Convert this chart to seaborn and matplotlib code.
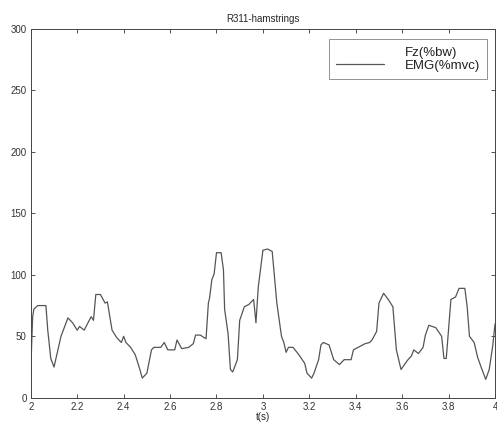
import numpy as np
import pandas as pd
import matplotlib
matplotlib.use("Agg")
import matplotlib.pyplot as plt
import seaborn as sns

# EMG trace
t = [2.0, 2.003, 2.008, 2.013, 2.03, 2.065, 2.073, 2.086, 2.10, 2.13, 2.16, 2.18,
     2.20, 2.21, 2.23, 2.26, 2.27, 2.28, 2.30, 2.32, 2.33, 2.35, 2.37, 2.39,
     2.40, 2.41, 2.43, 2.45, 2.47, 2.48, 2.50, 2.52, 2.53, 2.56, 2.575, 2.59,
     2.62, 2.63, 2.65, 2.68, 2.70, 2.71, 2.73, 2.755, 2.765, 2.77, 2.78, 2.79,
     2.80, 2.82, 2.83, 2.835, 2.85, 2.86, 2.87, 2.89, 2.90, 2.92, 2.94, 2.96,
     2.97, 2.98, 3.0, 3.02, 3.04, 3.05, 3.06, 3.08, 3.09, 3.10, 3.11, 3.13,
     3.155, 3.18, 3.19, 3.21, 3.22, 3.24, 3.25, 3.26, 3.285, 3.305, 3.33, 3.35,
     3.38, 3.39, 3.41, 3.42, 3.44, 3.46, 3.47, 3.49, 3.50, 3.52, 3.54, 3.56,
     3.575, 3.595, 3.61, 3.625, 3.64, 3.65, 3.67, 3.69, 3.70, 3.715, 3.745, 3.77,
     3.78, 3.79, 3.81, 3.83, 3.845, 3.87, 3.88, 3.89, 3.91, 3.925, 3.94, 3.96,
     3.975, 3.99, 4.0]
emg = [16, 40, 66, 72, 75, 75, 55, 32, 25, 50, 65, 61,
       55, 58, 55, 66, 63, 84, 84, 77, 78, 55, 49, 45,
       50, 45, 41, 35, 23, 16, 20, 39, 41, 41, 45, 39,
       39, 47, 40, 41, 44, 51, 51, 48, 77, 81, 96, 101,
       118, 118, 104, 72, 52, 23, 21, 31, 63, 74, 76, 80,
       61, 90, 120, 121, 119, 98, 77, 50, 45, 37, 41, 41,
       35, 28, 20, 16, 20, 31, 43, 45, 43, 31, 27, 31,
       31, 39, 41, 42, 44, 45, 47, 54, 77, 85, 80, 74,
       39, 23, 27, 31, 34, 39, 36, 41, 51, 59, 57, 50,
       32, 32, 80, 82, 89, 89, 74, 50, 45, 33, 25, 15,
       23, 42, 60]

df = pd.DataFrame({"t": t, "EMG(%mvc)": emg})

sns.set_style("ticks")
plt.rcParams["font.family"] = ["Liberation Sans", "DejaVu Sans"]
plt.rcParams["xtick.direction"] = "in"
plt.rcParams["ytick.direction"] = "in"

fig = plt.figure(figsize=(4.97, 4.25), dpi=100)
ax = fig.add_axes([0.062, 0.064, 0.934, 0.868])

# Fz line is not visible in the scan, keep it only for the legend
ax.plot([], [], color="white", lw=1, label="Fz(%bw)")
sns.lineplot(data=df, x="t", y="EMG(%mvc)", ax=ax, color="#555555", lw=0.9,
             label="EMG(%mvc)")

ax.set_xlim(2, 4)
ax.set_ylim(0, 300)
ax.set_xticks(np.arange(2, 4.01, 0.2))
ax.set_xticklabels(["2", "2.2", "2.4", "2.6", "2.8", "3", "3.2", "3.4", "3.6", "3.8", "4"])
ax.set_yticks(range(0, 301, 50))
ax.tick_params(labelsize=7, length=3, width=0.6, colors="#333333", top=True, right=True, pad=3)
for s in ax.spines.values():
    s.set_linewidth(0.7)
    s.set_color("#444444")

ax.set_xlabel("t(s)", fontsize=7, labelpad=0)
ax.set_ylabel("")
ax.set_title("R311-hamstrings", fontsize=7, pad=5)

leg = ax.legend(loc="upper right", fontsize=9.5, frameon=True, fancybox=False,
                edgecolor="#777777", handlelength=3.6, handletextpad=1.6,
                borderpad=0.55, borderaxespad=0, labelspacing=0.05,
                bbox_to_anchor=(0.983, 0.972))
leg.get_frame().set_linewidth(0.7)
for txt in leg.get_texts():
    txt.set_color("#222222")

fig.savefig("out.png", dpi=100)
